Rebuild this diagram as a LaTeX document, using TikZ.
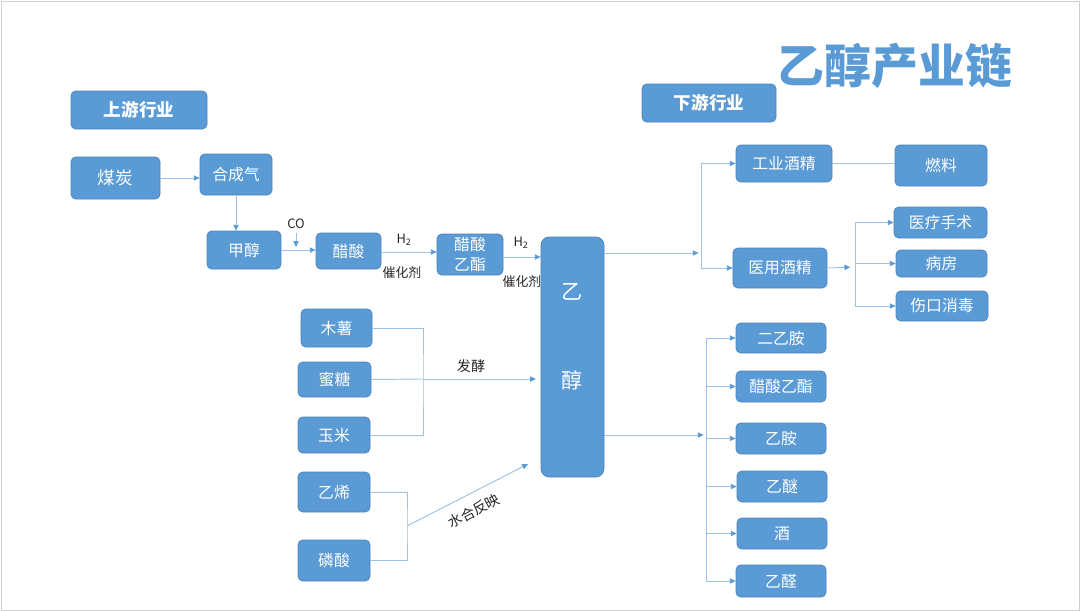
\documentclass[tikz,border=0pt]{standalone}
\usepackage{fontspec}
\setmainfont{Noto Sans CJK SC}
\usepackage{tikz}
\usetikzlibrary{calc,arrows.meta}
\definecolor{boxblue}{HTML}{5B9BD5}
\definecolor{boxline}{HTML}{4A84BC}
\definecolor{linkblue}{HTML}{9CC2E5}
\definecolor{tipblue}{HTML}{5B9BD5}
\definecolor{frame}{HTML}{D0D0D0}
\tikzset{
  box/.style={draw=boxline, fill=boxblue, line width=0.6pt, rounded corners=4pt,
    text=white, inner sep=0pt, font=\fontsize{13.5}{15}\selectfont},
  head/.style={box, font=\bfseries\fontsize{15}{17}\selectfont},
  link/.style={draw=linkblue, line width=0.8pt},
  arr/.style={link, -{Triangle[length=5pt,width=4.5pt,color=tipblue]}},
  lab/.style={text=black!85, font=\fontsize{11}{13}\selectfont, inner sep=1pt},
}

\begin{document}
\begin{tikzpicture}[x=0.03cm,y=-0.03cm]
  \useasboundingbox (0,0) rectangle (1080,611);
  \draw[frame, line width=0.8pt] (1,1) rectangle (1079,610);

  \node[text=boxblue, font=\bfseries\fontsize{40}{42}\selectfont] (title) at (895,66) {乙醇产业链};
  \node[head, minimum width=136*0.03cm, minimum height=38*0.03cm] (up) at (139,110) {上游行业};
  \node[head, minimum width=134*0.03cm, minimum height=38*0.03cm] (down) at (709,103) {下游行业};

  % upstream
  \node[box, minimum width=89*0.03cm, minimum height=42*0.03cm, font=\fontsize{15}{17}\selectfont] (coal) at (115.5,178) {煤炭};
  \node[box, minimum width=72*0.03cm, minimum height=41*0.03cm] (syngas) at (236,174.5) {合成气};
  \node[box, minimum width=74*0.03cm, minimum height=38*0.03cm] (methanol) at (244,250) {甲醇};
  \node[box, minimum width=65*0.03cm, minimum height=36*0.03cm] (acetic) at (348.5,251) {醋酸};
  \node[box, minimum width=66*0.03cm, minimum height=41*0.03cm, align=center,
        font=\fontsize{13.5}{17}\selectfont] (ester) at (470,254.5) {醋酸\\乙酯};
  \node[box, minimum width=63*0.03cm, minimum height=240*0.03cm, rounded corners=7pt] (ethanol) at (572.5,357) {};
  \node[text=white, font=\fontsize{18}{20}\selectfont] (ethA) at (572.5,292) {乙};
  \node[text=white, font=\fontsize{18}{20}\selectfont] (ethB) at (572.5,380) {醇};

  \node[box, minimum width=71*0.03cm, minimum height=38*0.03cm] (cassava) at (336.5,328) {木薯};
  \node[box, minimum width=73*0.03cm, minimum height=35*0.03cm] (molasses) at (334.5,379.5) {蜜糖};
  \node[box, minimum width=72*0.03cm, minimum height=36*0.03cm] (corn) at (334,435) {玉米};
  \node[box, minimum width=72*0.03cm, minimum height=40*0.03cm] (ethylene) at (334,492) {乙烯};
  \node[box, minimum width=72*0.03cm, minimum height=41*0.03cm] (phos) at (334,560.5) {磷酸};

  % downstream
  \node[box, minimum width=96*0.03cm, minimum height=37*0.03cm] (indus) at (784,163.5) {工业酒精};
  \node[box, minimum width=92*0.03cm, minimum height=41*0.03cm] (fuel) at (941,165.5) {燃料};
  \node[box, minimum width=94*0.03cm, minimum height=40*0.03cm] (medic) at (780,268) {医用酒精};
  \node[box, minimum width=93*0.03cm, minimum height=31*0.03cm] (surg) at (940.5,222.5) {医疗手术};
  \node[box, minimum width=91*0.03cm, minimum height=27*0.03cm] (ward) at (941.5,263.5) {病房};
  \node[box, minimum width=92*0.03cm, minimum height=30*0.03cm] (wound) at (942,306) {伤口消毒};

  \node[box, minimum width=90*0.03cm, minimum height=30*0.03cm] (dea) at (781,338) {二乙胺};
  \node[box, minimum width=90*0.03cm, minimum height=31*0.03cm] (ea) at (781,386.5) {醋酸乙酯};
  \node[box, minimum width=90*0.03cm, minimum height=31*0.03cm] (eam) at (781,438.5) {乙胺};
  \node[box, minimum width=90*0.03cm, minimum height=31*0.03cm] (ether) at (782,486.5) {乙醚};
  \node[box, minimum width=90*0.03cm, minimum height=31*0.03cm] (wine) at (782,533.5) {酒};
  \node[box, minimum width=90*0.03cm, minimum height=32*0.03cm] (acet) at (781,581) {乙醛};

  % upstream links
  \draw[arr] (coal.east) -- (coal.east -| syngas.west);
  \draw[arr] (syngas.south) -- (syngas.south |- methanol.north);
  \draw[arr] (methanol.east) -- (methanol.east -| acetic.west);
  \coordinate (coTop) at (296,233);
  \coordinate (coEnd) at (296,247);
  \node[lab] (co) at (296,224) {CO};
  \draw[arr] (coTop) -- (coEnd);
  \draw[arr] (acetic.east |- 0,252) -- (ester.west |- 0,252);
  \node[lab] (h1) at (404,240) {H\textsubscript{2}};
  \node[lab] (cat1) at (402,273) {催化剂};
  \draw[arr] (ester.east |- 0,257) -- (ethanol.west |- 0,257);
  \node[lab] (h2) at (521,243) {H\textsubscript{2}};
  \node[lab] (cat2) at (522,282) {催化剂};

  % fermentation
  \coordinate (fj) at (423,379);
  \draw[link] (cassava.east) -| (fj) |- (corn.east);
  \draw[link] (molasses.east) -- (fj);
  \draw[arr, shorten >=4pt] (fj) -- (fj -| ethanol.west);
  \node[lab, font=\fontsize{12}{14}\selectfont] (ferm) at (471,366) {发酵};

  % hydration
  \coordinate (hj) at (407,526);
  \coordinate (hEnd) at (528,464);
  \draw[link] (ethylene.east) -| (hj) |- (phos.east);
  \draw[arr] (hj) -- (hEnd);
  \node[lab, font=\fontsize{12}{14}\selectfont, rotate=28, inner sep=0pt] (hyd) at (474,511) {水合反映};

  % downstream links
  \coordinate (bu) at (701,253);
  \draw[arr, shorten >=2pt] (bu -| ethanol.east) -- (bu);
  \draw[arr] (bu) |- (indus.west);
  \draw[arr] (bu) |- (medic.west);
  \draw[link] (indus.east) -- (indus.east -| fuel.west);

  \coordinate (bm) at (855,267);
  \draw[arr, shorten >=4pt] (medic.east) -- (bm);
  \draw[arr] (bm) |- (surg.west);
  \draw[arr] (bm) |- (ward.west);
  \draw[arr] (bm) |- (wound.west);

  \coordinate (bl) at (706,435);
  \draw[arr, shorten >=2pt] (bl -| ethanol.east) -- (bl);
  \foreach \t in {dea,ea,eam,ether,wine,acet}
    \draw[arr] (bl) |- (\t.west);
\end{tikzpicture}
\end{document}
